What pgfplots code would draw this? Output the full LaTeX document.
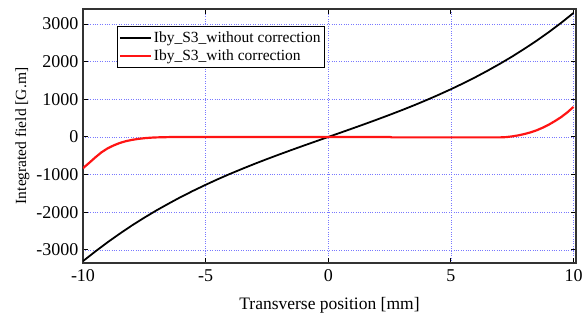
\documentclass[border=0pt]{standalone}
\usepackage{pgfplots}
\pgfplotsset{compat=1.18}
\usepackage{fontspec}
\setmainfont{Liberation Serif}
\definecolor{gridblue}{RGB}{120,120,255}
\definecolor{myred}{RGB}{255,20,20}
\newcommand{\tf}{\fontsize{18bp}{20bp}\selectfont}
\begin{document}
\begin{tikzpicture}
\begin{axis}[
  scale only axis,
  width=493bp, height=254bp,
  at={(0,0)}, anchor=south west,
  xmin=-10, xmax=10.1,
  ymin=-3350, ymax=3400,
  xtick={-10,-5,0,5,10},
  xticklabels={{\tf -10},{\tf -5},{\tf 0},{\tf 5},{\tf 10}},
  ytick={-3000,-2000,-1000,0,1000,2000,3000},
  yticklabels={{\tf -3000},{\tf -2000},{\tf -1000},{\tf 0},{\tf 1000},{\tf 2000},{\tf 3000}},
  tick align=inside,
  major tick length=5bp,
  tick style={black, line width=0.9pt},
  axis line style={black!80, line width=1.2pt},
  grid=major,
  major grid style={gridblue, dotted, line width=0.6pt},
  tick label style={font=\tf},
  xticklabel style={yshift=-3bp},
  yticklabel style={xshift=-1bp},
  xlabel={Transverse position [mm]},
  ylabel={Integrated field [G.m]},
  xlabel style={font=\fontsize{17.5bp}{20bp}\selectfont, at={(rel axis cs:0.5,0)}, anchor=north, yshift=-31bp},
  ylabel style={font=\fontsize{15.5bp}{20bp}\selectfont, at={(rel axis cs:0,0.5)}, anchor=south, yshift=50bp},
  legend style={at={(rel axis cs:0.069,0.933)}, anchor=north west,
    draw=black, line width=0.8pt, font=\fontsize{15.5bp}{16bp}\selectfont,
    inner xsep=1.5bp, inner ysep=3.5bp, row sep=2bp, cells={anchor=west}},
  legend image code/.code={\draw[#1, line width=2pt] (0bp,0bp) -- (31bp,0bp);},
]
\addplot[black, line width=1.8pt] coordinates {
(-10,-3300) (-9.5,-3045) (-9,-2800) (-8.5,-2570) (-8,-2350) (-7.5,-2145)
(-7,-1950) (-6.5,-1768) (-6,-1592) (-5.5,-1428) (-5,-1272) (-4.5,-1122)
(-4,-980) (-3.5,-845) (-3,-714) (-2.5,-588) (-2,-466) (-1.5,-347) (-1,-230)
(-0.5,-115) (0,0) (0.5,114) (1,229) (1.5,346) (2,465) (2.5,587) (3,712)
(3.5,842) (4,978) (4.5,1120) (5,1268) (5.5,1424) (6,1588) (6.5,1762)
(7,1945) (7.5,2138) (8,2344) (8.5,2560) (9,2790) (9.5,3035) (10,3295)
};
\addlegendentry{Iby\_S3\_without correction}
\addplot[myred, line width=2.2pt] coordinates {
(-10,-830) (-9.75,-690) (-9.5,-545) (-9.25,-410) (-9,-305) (-8.75,-225)
(-8.5,-160) (-8.25,-112) (-8,-78) (-7.75,-52) (-7.5,-33) (-7.25,-20)
(-7,-12) (-6.5,-4) (-6,0) (-4,0) (-2,0) (0,0) (2,0) (2.5,0) (2.6,-12)
(4,-12) (6,-12) (7,-12) (7.25,-4) (7.5,15) (7.75,42) (8,78) (8.25,122)
(8.5,178) (8.75,248) (9,330) (9.25,425) (9.5,530) (9.75,655) (10,800)
};
\addlegendentry{Iby\_S3\_with correction}
\end{axis}
\path (-83bp,-53bp) rectangle (505bp,263bp);
\end{tikzpicture}
\end{document}
